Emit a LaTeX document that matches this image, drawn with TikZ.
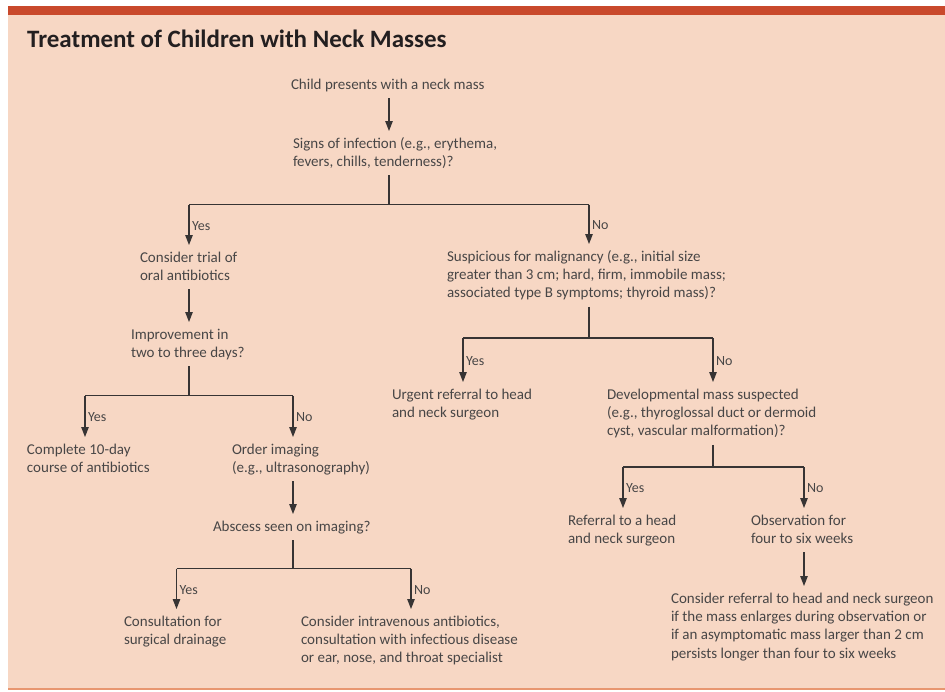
\documentclass[tikz,border=0pt]{standalone}
\usepackage{fontspec}
\setmainfont{Carlito}
\usetikzlibrary{arrows.meta}
\definecolor{peach}{RGB}{247,215,196}
\definecolor{barred}{RGB}{201,73,44}
\definecolor{edgeline}{RGB}{232,150,112}
\definecolor{txt}{RGB}{72,70,70}
\definecolor{ink}{RGB}{55,52,52}
\definecolor{ttl}{RGB}{35,31,32}
\newcommand{\mlines}[1]{\begin{tabular}[t]{@{}l@{}}#1\end{tabular}}
\tikzset{
  box/.style={anchor=base west, inner sep=0pt, outer xsep=0pt, outer ysep=3.5pt,
    text height=13.5pt, text=txt, font=\fontsize{15}{18.4}\selectfont},
  link/.style={draw=ink, line width=1.2pt},
  arr/.style={link, -{Triangle[length=10pt,width=7.5pt]}},
  lab/.style={midway, anchor=west, inner sep=0pt, xshift=2.5pt, yshift=-1pt, text=txt,
    font=\fontsize{14}{16}\selectfont}
}
\begin{document}
\begin{tikzpicture}[x=1pt,y=-1pt]
\useasboundingbox (0,0) rectangle (945,691);
% frame
\fill[peach] (8,14) rectangle (945,689);
\fill[barred] (8,6) rectangle (945,14.5);
\fill[edgeline] (8,688) rectangle (945,690);
% title
\node[anchor=base west, inner sep=0pt, text=ttl, font=\fontsize{25}{28}\selectfont\bfseries]
  (title) at (27,47) {Treatment of Children with Neck Masses};
% nodes
\node[box] (n1) at (291,89) {\mlines{Child presents with a neck mass}};
\node[box] (n2) at (293,148) {\mlines{Signs of infection (e.g., erythema,\\fevers, chills, tenderness)?}};
\node[box] (n3) at (140,262) {\mlines{Consider trial of\\oral antibiotics}};
\node[box] (n4) at (131,339) {\mlines{Improvement in\\two to three days?}};
\node[box] (n5) at (27,454) {\mlines{Complete 10-day\\course of antibiotics}};
\node[box] (n6) at (232,454) {\mlines{Order imaging\\(e.g., ultrasonography)}};
\node[box] (n7) at (213,531) {\mlines{Abscess seen on imaging?}};
\node[box] (n8) at (124,626) {\mlines{Consultation for\\surgical drainage}};
\node[box] (n9) at (301,626) {\mlines{Consider intravenous antibiotics,\\consultation with infectious disease\\or ear, nose, and throat specialist}};
\node[box] (n10) at (447,261) {\mlines{Suspicious for malignancy (e.g., initial size\\greater than 3 cm; hard, firm, immobile mass;\\associated type B symptoms; thyroid mass)?}};
\node[box] (n11) at (392,399) {\mlines{Urgent referral to head\\and neck surgeon}};
\node[box] (n12) at (607,399) {\mlines{Developmental mass suspected\\(e.g., thyroglossal duct or dermoid\\cyst, vascular malformation)?}};
\node[box] (n13) at (568,525) {\mlines{Referral to a head\\and neck surgeon}};
\node[box] (n14) at (751,525) {\mlines{Observation for\\four to six weeks}};
\node[box] (n15) at (671,603) {\mlines{Consider referral to head and neck surgeon\\if the mass enlarges during observation or\\if an asymptomatic mass larger than 2 cm\\persists longer than four to six weeks}};
% junctions
\coordinate (x1) at (389,204.5); \coordinate (y1) at (189,204.5); \coordinate (z1) at (589,204.5);
\coordinate (x2) at (189,395.5); \coordinate (y2) at (85,395.5);  \coordinate (z2) at (293,395.5);
\coordinate (x3) at (293,568.5); \coordinate (y3) at (176.5,568.5); \coordinate (z3) at (411,568.5);
\coordinate (x4) at (589,338);   \coordinate (y4) at (463,338);   \coordinate (z4) at (713,338);
\coordinate (x5) at (713,467);   \coordinate (y5) at (623,467);   \coordinate (z5) at (804,467);
% connectors
\draw[arr] (n1.south -| x1) -- (n2.north -| x1);
\draw[link] (n2.south -| x1) -- (x1);
\draw[link] (y1) -- (z1);
\draw[arr] (y1) -- node[lab]{Yes} (y1 |- n3.north);
\draw[arr] (z1) -- node[lab]{No} (z1 |- n10.north);
\draw[arr] (n3.south -| x2) -- (n4.north -| x2);
\draw[link] (n4.south -| x2) -- (x2);
\draw[link] (y2) -- (z2);
\draw[arr] (y2) -- node[lab]{Yes} (y2 |- n5.north);
\draw[arr] (z2) -- node[lab]{No} (z2 |- n6.north);
\draw[arr] (n6.south -| x3) -- (n7.north -| x3);
\draw[link] (n7.south -| x3) -- (x3);
\draw[link] (y3) -- (z3);
\draw[arr] (y3) -- node[lab]{Yes} (y3 |- n8.north);
\draw[arr] (z3) -- node[lab]{No} (z3 |- n9.north);
\draw[link] (n10.south -| x4) -- (x4);
\draw[link] (y4) -- (z4);
\draw[arr] (y4) -- node[lab]{Yes} (y4 |- n11.north);
\draw[arr] (z4) -- node[lab]{No} (z4 |- n12.north);
\draw[link] (n12.south -| x5) -- (x5);
\draw[link] (y5) -- (z5);
\draw[arr] (y5) -- node[lab]{Yes} (y5 |- n13.north);
\draw[arr] (z5) -- node[lab]{No} (z5 |- n14.north);
\draw[arr] (n14.south -| z5) -- (n15.north -| z5);
\end{tikzpicture}
\end{document}
